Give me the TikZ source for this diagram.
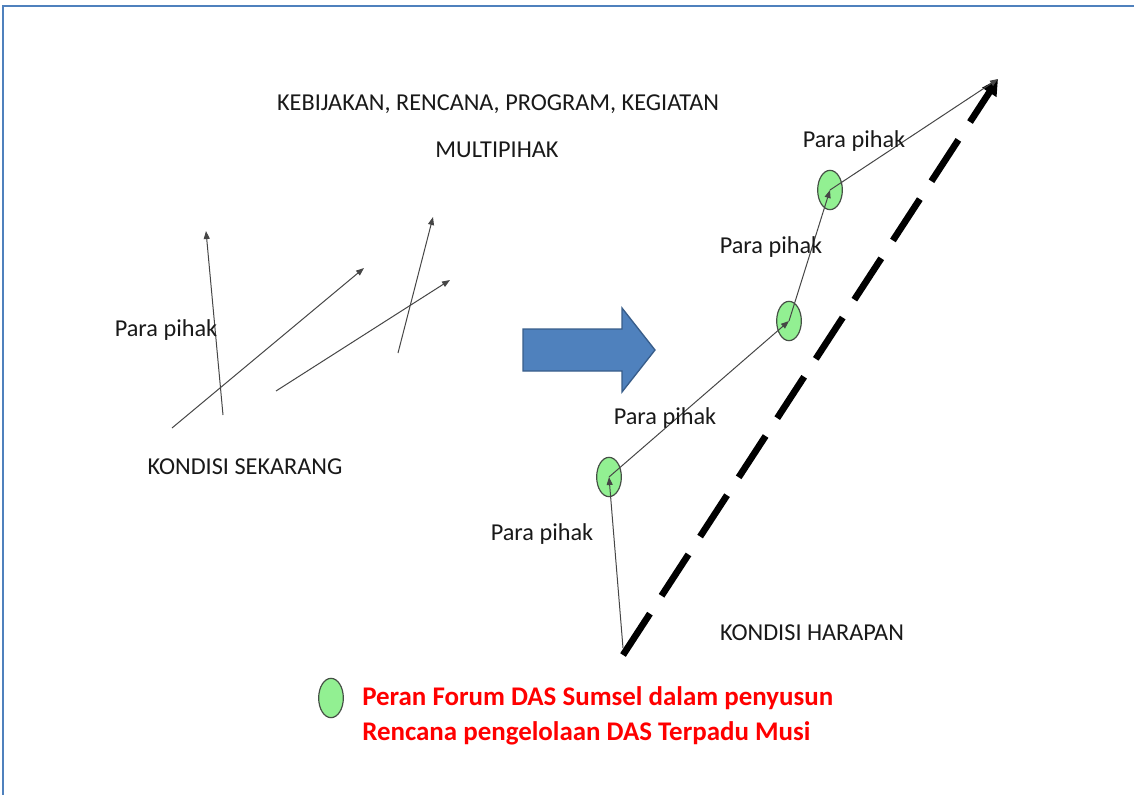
\documentclass[tikz,border=0pt]{standalone}
\usepackage{fontspec}
\setmainfont{Carlito}
\usetikzlibrary{arrows.meta,shapes.geometric}
\definecolor{frameblue}{RGB}{79,129,189}
\definecolor{arrowfill}{RGB}{79,129,189}
\definecolor{arrowline}{RGB}{56,93,138}
\definecolor{leafgreen}{RGB}{146,240,146}
\definecolor{ringline}{RGB}{70,80,70}
\definecolor{thinline}{RGB}{70,70,70}
\definecolor{legendred}{RGB}{255,0,0}
\begin{document}
\begin{tikzpicture}[x=0.75pt,y=-0.75pt,
  lbl/.style={font=\fontsize{18.2pt}{22pt}\selectfont, text=black!90, inner sep=0pt},
  redlbl/.style={font=\bfseries\fontsize{20.2pt}{24pt}\selectfont, text=legendred, inner sep=0pt, anchor=west},
  thinarrow/.style={draw=thinline, line width=0.75pt, -{Triangle[length=6pt,width=4.5pt]}},
  dot/.style={ellipse, draw=ringline, fill=leafgreen, line width=0.9pt, minimum width=18.5pt, minimum height=29.5pt, inner sep=0pt},
  bigdash/.style={draw=black, line width=5pt, dash pattern=on 37pt off 16pt, -{Triangle[length=12pt,width=12pt]}}]
\useasboundingbox (0,0) rectangle (1134,795);
% frame
\draw[frameblue, line width=2pt] (3,795) -- (3,6) -- (1134,6);

% titles
\node[lbl] (t1) at (498,104) {KEBIJAKAN, RENCANA, PROGRAM, KEGIATAN};
\node[lbl] (t2) at (497,150) {MULTIPIHAK};
\node[lbl] (ks) at (245,467) {KONDISI SEKARANG};
\node[lbl] (kh) at (812,633) {KONDISI HARAPAN};

% left arrows
\coordinate (a1s) at (223,415); \coordinate (a1e) at (206,231);
\coordinate (a2s) at (172,428); \coordinate (a2e) at (364,268);
\coordinate (a3s) at (276,391); \coordinate (a3e) at (450,280);
\coordinate (a4s) at (398,353); \coordinate (a4e) at (433,217);
\draw[thinarrow] (a1s) -- (a1e);
\draw[thinarrow] (a2s) -- (a2e);
\draw[thinarrow] (a3s) -- (a3e);
\draw[thinarrow] (a4s) -- (a4e);
\node[lbl] (pp0) at (166,330) {Para pihak};

% block arrow
\draw[fill=arrowfill, draw=arrowline, line width=1pt]
  (523,329) -- (622,329) -- (622,308) -- (655,350) -- (622,392) -- (622,371) -- (523,371) -- cycle;

% dashed target line
\coordinate (d0) at (623,655);
\coordinate (d1) at (998,79);
\draw[bigdash] (d0) -- (d1);

% path of stakeholders
\node[dot] (e1) at (609,477) {};
\node[dot] (e2) at (789,321) {};
\node[dot] (e3) at (830,190) {};
\coordinate (p0) at (623,648);
\coordinate (p4) at (998,79);
\draw[thinarrow] (p0) -- (e1.center);
\draw[thinarrow] (e1.center) -- (e2.center);
\draw[thinarrow] (e2.center) -- (e3.center);
\draw[thinarrow] (e3.center) -- (p4);

\node[lbl] (pp1) at (542,534) {Para pihak};
\node[lbl] (pp2) at (665,418) {Para pihak};
\node[lbl] (pp3) at (771,247) {Para pihak};
\node[lbl] (pp4) at (854,141) {Para pihak};

% legend
\node[dot] (leg) at (331,698) {};
\node[redlbl] (r1) at (362,698) {Peran Forum DAS Sumsel dalam penyusun};
\node[redlbl] (r2) at (362,733) {Rencana pengelolaan DAS Terpadu Musi};
\end{tikzpicture}
\end{document}
